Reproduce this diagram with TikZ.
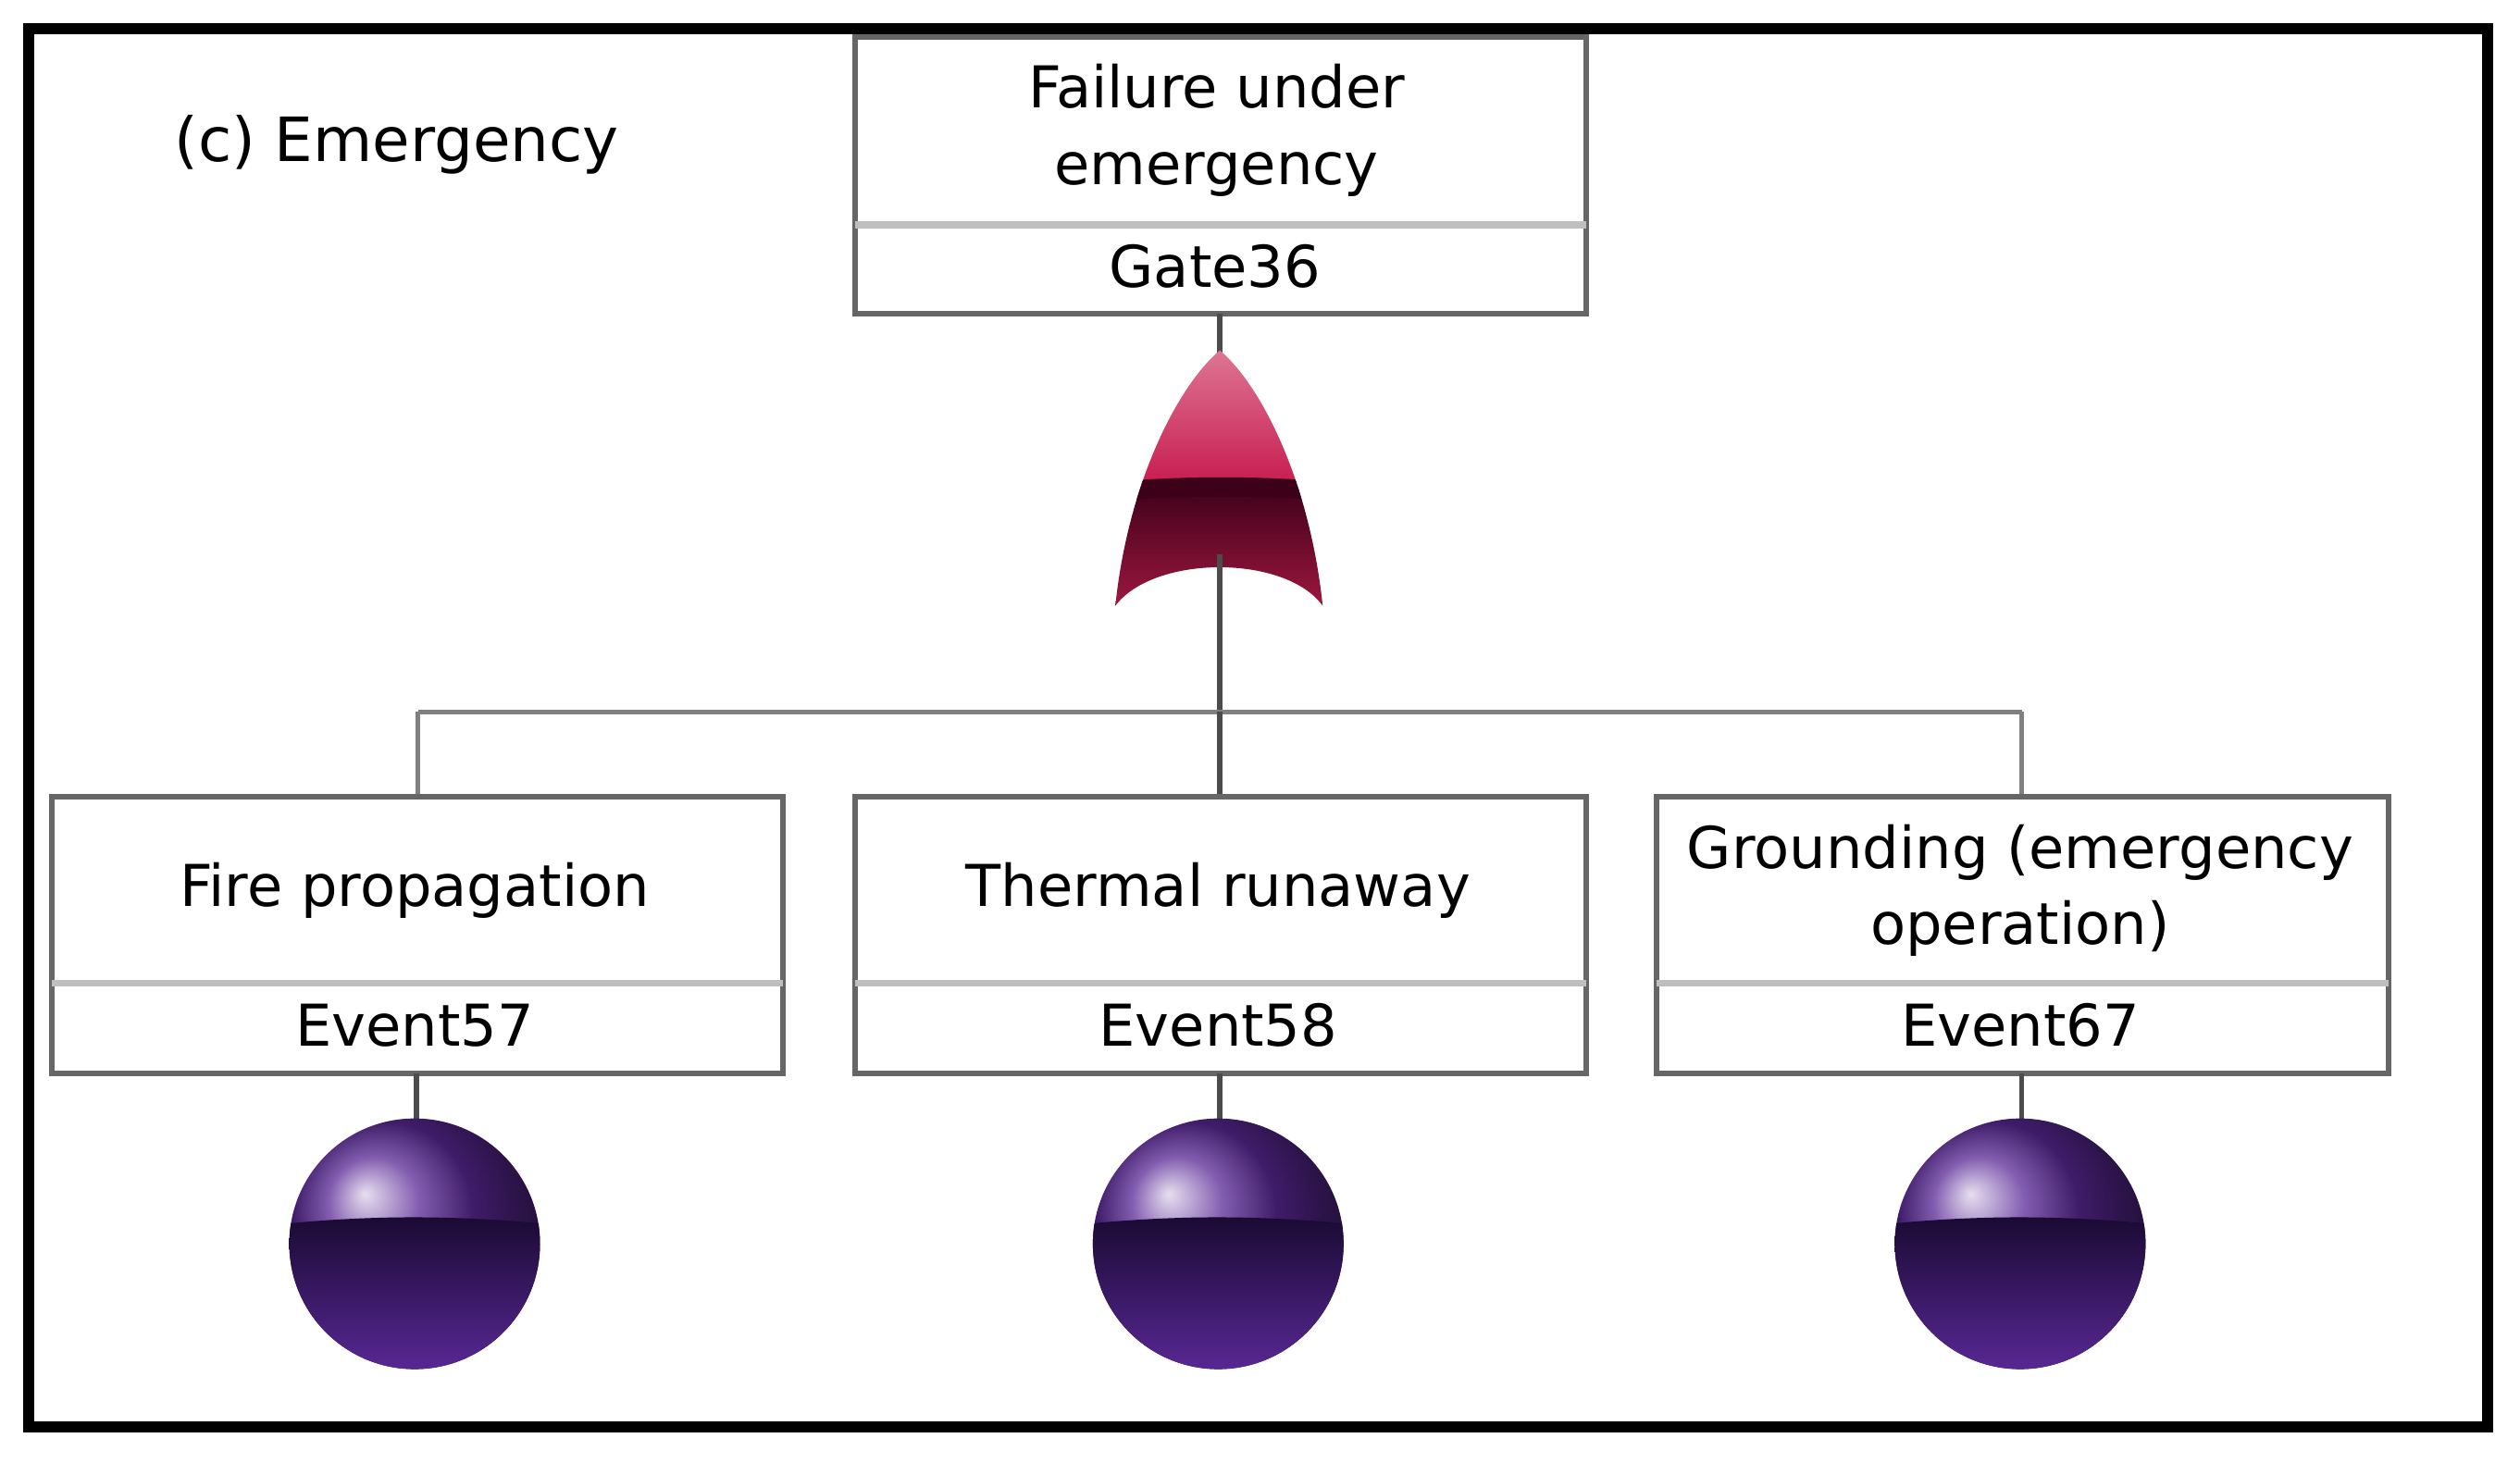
\documentclass[tikz,border=0pt]{standalone}
\usepackage{fontspec}
\setmainfont{DejaVu Sans}
\definecolor{crim}{RGB}{200,30,80}
\definecolor{crimd}{RGB}{60,0,25}
\definecolor{purp}{RGB}{90,40,150}
\definecolor{purpd}{RGB}{25,10,50}
\begin{document}
\begin{tikzpicture}[x=0.01cm,y=-0.01cm,
  box/.style={draw=gray!80!black,line width=1pt},
  div/.style={draw=gray!50,line width=1.2pt},
  lbl/.style={font=\fontsize{10.2}{13.5}\selectfont,align=center},
  con/.style={draw=black!70,line width=0.9pt}]
\useasboundingbox (0,0) rectangle (1568,910);
\draw[line width=2pt] (18,18) rectangle (1548,888);
\node[lbl,anchor=west,font=\fontsize{10.8}{13}\selectfont] (title) at (96,90) {(c) Emergency};
% top box
\draw[box] (532,23) rectangle (987,195);
\draw[div] (532,140) -- (987,140);
\node[lbl] (top) at (757,81) {Failure under\\emergency};
\node[lbl] (g36) at (756,166) {Gate36};
\coordinate (tb) at (759,195);
\coordinate (gt) at (759,220);
\coordinate (gb) at (759,345);
\draw[con] (tb) -- (gt);
% gate
\begin{scope}
\clip (759,218) .. controls (785,240) and (815,300) .. (823,377)
  .. controls (800,345) and (718,345) .. (694,377)
  .. controls (702,300) and (733,240) .. (759,218) -- cycle;
\shade[top color=crim!60!white,bottom color=crim] (690,215) rectangle (830,300);
\shade[top color=crimd,bottom color=crim!80!black] (690,300) rectangle (830,380);
\fill[crimd] (690,300) .. controls (740,296) and (780,296) .. (830,300) -- (830,312) .. controls (780,308) and (740,308) .. (690,312) -- cycle;
\end{scope}
\draw[con] (gb) -- (759,443);
\coordinate (j) at (759,443);
\coordinate (jl) at (260,443);
\coordinate (jr) at (1258,443);
\draw[con,draw=gray] (jl) -- (jr);
\draw[con,draw=gray] (jl) -- (260,496);
\draw[con,draw=gray] (jr) -- (1258,496);
\draw[con] (j) -- (759,496);
% event boxes
\foreach \x/\n/\t/\e in {32/a/{Fire propagation}/Event57,532/b/{Thermal runaway}/Event58,1031/c/{Grounding (emergency\\operation)}/Event67}{
  \draw[box] (\x,496) rectangle (\x+455,668);
  \draw[div] (\x,612) -- (\x+455,612);
  \node[lbl] (t\n) at (\x+226,554) {\t};
  \node[lbl] (e\n) at (\x+226,638) {\e};
  \draw[con] (\x+227,668) -- (\x+227,697);
  \begin{scope}
  \clip (\x+226,774) circle (78);
  \shade[ball color=purp] (\x+226,774) circle (78);
  \shade[top color=purpd,bottom color=purp] (\x+140,762) .. controls (\x+200,756) and (\x+250,756) .. (\x+312,762) -- (\x+312,855) -- (\x+140,855) -- cycle;
  \end{scope}
}
\end{tikzpicture}
\end{document}
